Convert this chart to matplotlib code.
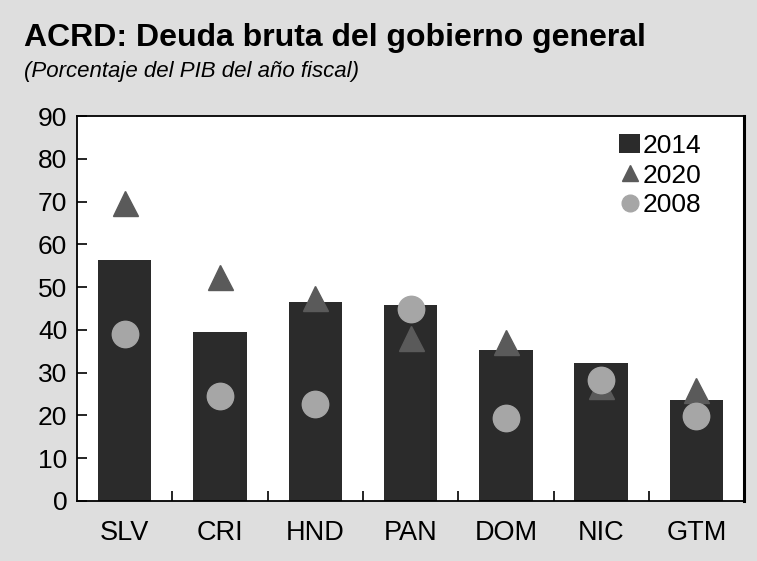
import matplotlib.pyplot as plt
import numpy as np

# Data
countries = ["SLV", "CRI", "HND", "PAN", "DOM", "NIC", "GTM"]
debt2014 = [56.3, 39.5, 46.5, 45.8, 35.3, 32.2, 23.6]
debt2020 = [69.6, 52.3, 47.4, 38.0, 37.1, 27.0, 26.0]
debt2008 = [39.0, 24.5, 22.7, 45.0, 19.4, 28.3, 19.9]

yTicks = [0, 10, 20, 30, 40, 50, 60, 70, 80, 90]

# Colours
bgColor = "#dedede"
barColor = "#2b2b2b"
triColor = "#5a5a5a"
dotColor = "#a6a6a6"

plt.rcParams["font.family"] = ["Liberation Sans", "DejaVu Sans"]

fig = plt.figure(figsize=(7.57, 5.61), dpi=100, facecolor=bgColor)
ax = fig.add_axes([0.1017, 0.107, 0.8813, 0.686])
ax.set_facecolor("white")

x = np.arange(len(countries))

# Add plot data
bars = ax.bar(x, debt2014, width=0.56, color=barColor, label="2014", zorder=2)
tri, = ax.plot(x, debt2020, linestyle="none", marker="^", markersize=18,
               color=triColor, label="2020", zorder=3)
dot, = ax.plot(x, debt2008, linestyle="none", marker="o", markersize=19,
               color=dotColor, label="2008", zorder=4)

# Axis settings
ax.set_xlim(-0.5, len(countries) - 0.5)
ax.set_ylim(0, 90)
ax.set_yticks(yTicks)
ax.set_xticks(x)
ax.set_xticklabels(countries)
ax.set_xticks(x[:-1] + 0.5, minor=True)
ax.tick_params(axis="y", direction="in", length=7, width=1.2,
               labelsize=19, pad=7)
ax.tick_params(axis="x", which="major", length=0, labelsize=19.5, pad=14)
ax.tick_params(axis="x", which="minor", direction="in", length=7, width=1.2)
for spine in ax.spines.values():
    spine.set_linewidth(1.3)
ax.spines["right"].set_linewidth(2.2)

# Legend (keep 2014, 2020, 2008 order)
leg = ax.legend([bars, tri, dot], ["2014", "2020", "2008"],
                loc="upper right", frameon=False, fontsize=19,
                handlelength=0.8, handletextpad=0.1, labelspacing=0.22,
                borderaxespad=0.2, bbox_to_anchor=(0.96, 0.995))
for h in leg.legend_handles[1:]:
    h.set_markersize(12)

# Titles
fig.text(0.032, 0.918, "ACRD: Deuda bruta del gobierno general",
         fontsize=23, fontweight="bold", ha="left", va="baseline")
fig.text(0.032, 0.862, "(Porcentaje del PIB del año fiscal)",
         fontsize=16, fontstyle="italic", ha="left", va="baseline")

fig.savefig("out.png", dpi=100, facecolor=bgColor)
